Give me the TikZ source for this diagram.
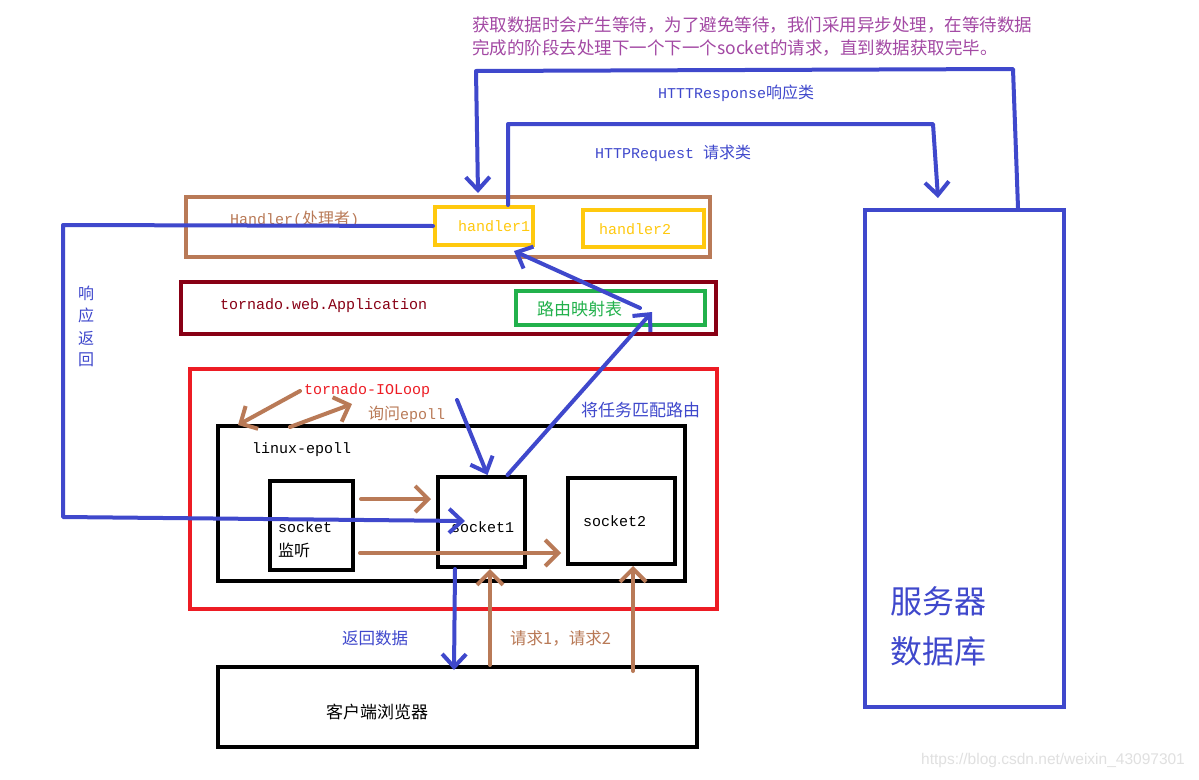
\documentclass[tikz,border=0pt]{standalone}
\usepackage{fontspec}
\setmainfont{Noto Sans CJK SC}
\newfontfamily\cjk{Noto Sans CJK SC}
\newfontfamily\mono{Liberation Mono}
\newfontfamily\wm{Liberation Sans}
\usetikzlibrary{arrows.meta}
\definecolor{cblue}{HTML}{3F48CC}
\definecolor{cbrown}{HTML}{B97A57}
\definecolor{cyellow}{HTML}{FFC90E}
\definecolor{cdred}{HTML}{880015}
\definecolor{cgreen}{HTML}{22B14C}
\definecolor{cred}{HTML}{ED1C24}
\definecolor{cpurple}{HTML}{A349A4}
\tikzset{
  box/.style={draw, line width=4pt, inner sep=0, rectangle},
  lbl/.style={inner sep=0, anchor=west},
  barrow/.style={draw=cblue, line width=4pt, line join=round, line cap=round, -{Straight Barb[length=13pt,width=24pt]}},
  brarrow/.style={draw=cbrown, line width=4pt, line cap=round, -{Straight Barb[length=13pt,width=26pt]}},
}
\newcommand{\ms}{\fontsize{15}{18}\mono}
\newcommand{\cs}{\fontsize{16}{19}\cjk}
\begin{document}
\begin{tikzpicture}[x=1pt,y=-1pt]
\useasboundingbox[fill=white] (0,0) rectangle (1199,779);
% boxes
\node[box, draw=cbrown, minimum width=524pt, minimum height=60pt] (hbox) at (448,227) {};
\node[box, draw=cyellow, minimum width=98pt, minimum height=38pt] (h1) at (484,226) {};
\node[box, draw=cyellow, minimum width=121pt, minimum height=37pt] (h2) at (643.5,228.5) {};
\node[box, draw=cdred, minimum width=535pt, minimum height=52pt] (app) at (448.5,308) {};
\node[box, draw=cgreen, minimum width=189pt, minimum height=34pt] (route) at (610.5,308) {};
\node[box, draw=cred, minimum width=527pt, minimum height=240pt] (loop) at (453.5,489) {};
\node[box, draw=black, minimum width=467pt, minimum height=155pt] (epoll) at (451.5,503.5) {};
\node[box, draw=black, minimum width=83pt, minimum height=89pt] (listen) at (311.5,525.5) {};
\node[box, draw=black, minimum width=87pt, minimum height=90pt] (s1) at (481.5,522) {};
\node[box, draw=black, minimum width=107pt, minimum height=86pt] (s2) at (621.5,521) {};
\node[box, draw=black, minimum width=479pt, minimum height=80pt] (client) at (457.5,707) {};
\node[box, draw=cblue, minimum width=199pt, minimum height=497pt] (server) at (964.5,458.5) {};
% texts
\node[lbl, text=cpurple, font=\fontsize{17.5}{20}\cjk] (t1) at (472,25) {获取数据时会产生等待，为了避免等待，我们采用异步处理，在等待数据};
\node[lbl, text=cpurple, font=\fontsize{17.5}{20}\cjk] (t2) at (472,48) {完成的阶段去处理下一个下一个socket的请求，直到数据获取完毕。};
\node[lbl, text=cblue] (tresp) at (658,93) {{\ms HTTTResponse}{\cs 响应类}};
\node[lbl, text=cblue] (treq) at (595,153) {{\ms HTTPRequest }{\cs 请求类}};
\node[lbl, text=cbrown] (thandler) at (230,219) {{\ms Handler(}{\cs 处理者}{\ms )}};
\node[lbl, text=cyellow, font=\ms] (th1) at (458,226) {handler1};
\node[lbl, text=cyellow, font=\ms] (th2) at (599,229) {handler2};
\node[lbl, text=cdred, font=\ms] (tapp) at (220,306) {tornado.web.Application};
\node[lbl, text=cgreen, font=\fontsize{17}{20}\cjk] (troute) at (537,309) {路由映射表};
\node[lbl, text=cred, font=\ms] (tloop) at (304,391) {tornado-IOLoop};
\node[lbl, text=cbrown] (task) at (368,414) {{\cs 询问}{\ms epoll}};
\node[lbl, text=cblue, font=\fontsize{17}{20}\cjk] (tmatch) at (581,410) {将任务匹配路由};
\node[lbl, text=black, font=\ms] (tepoll) at (252,450) {linux-epoll};
\node[lbl, text=black, font=\ms] (tsock) at (278,527) {socket};
\node[lbl, text=black, font=\cs] (tlisten) at (278,550) {监听};
\node[lbl, text=black, font=\ms] (ts1) at (451,527) {socket1};
\node[lbl, text=black, font=\ms] (ts2) at (583,521) {socket2};
\node[lbl, text=cblue, font=\fontsize{16.5}{19}\cjk] (tret) at (342,638) {返回数据};
\node[lbl, text=cbrown, font=\fontsize{16.5}{19}\cjk] (treqs) at (510,638) {请求1，请求2};
\node[lbl, text=black, font=\fontsize{17}{20}\cjk] (tclient) at (326,712) {客户端浏览器};
\node[inner sep=0, text=cblue, font=\cs] (tv1) at (86,293) {响};
\node[inner sep=0, text=cblue, font=\cs] (tv2) at (86,315) {应};
\node[inner sep=0, text=cblue, font=\cs] (tv3) at (86,338) {返};
\node[inner sep=0, text=cblue, font=\cs] (tv4) at (86,360) {回};
\node[lbl, text=cblue, font=\fontsize{32}{38}\cjk] (tsrv) at (890,601) {服务器};
\node[lbl, text=cblue, font=\fontsize{32}{38}\cjk] (tdb) at (890,651) {数据库};
\node[lbl, text=black!12, font=\fontsize{15.5}{18}\wm] (twm) at (921,760) {https://blog.csdn.net/weixin\_43097301};
% coordinates
\coordinate (r1) at (1013,69);
\coordinate (r2) at (476,71);
\coordinate (rt) at (478,193);
\coordinate (q1) at (508,124);
\coordinate (q2) at (933,124);
\coordinate (qt) at (938,198);
\coordinate (l1) at (63,225);
\coordinate (l2) at (63,517);
\coordinate (lt) at (465,521);
\coordinate (ioa) at (290,427);
\coordinate (iob) at (352,404);
\coordinate (ioc) at (300,391);
\coordinate (iod) at (238,425);
\coordinate (mstart) at (457,400);
\coordinate (rtip) at (652,312);
\coordinate (rfrom) at (640,308);
% blue connectors
\draw[barrow] ([xshift=53.5pt]server.north) -- (r1) -- (r2) -- (rt);
\draw[barrow] ([xshift=24pt]h1.north) -- (q1) -- (q2) -- (qt);
\draw[barrow] (h1.west) -- (l1) -- (l2) -- (lt);
\draw[barrow] ([xshift=26pt]s1.north) -- (rtip);
\draw[barrow] (rfrom) -- ([xshift=30pt,yshift=-4pt]h1.south);
\draw[barrow] (mstart) -- ([xshift=6pt]s1.north);
\draw[barrow] ([xshift=-26.5pt]s1.south) -- ([xshift=-3.5pt,yshift=-5pt]client.north);
% brown connectors
\draw[brarrow] (ioa) -- (iob);
\draw[brarrow] (ioc) -- (iod);
\draw[brarrow] ([xshift=6pt,yshift=26.5pt]listen.east) -- ([xshift=-5pt,yshift=23pt]s1.west);
\draw[brarrow] ([xshift=5pt,yshift=-27.5pt]listen.east) -- ([xshift=-5pt,yshift=-32pt]s2.west);
\draw[brarrow] ([xshift=32.5pt]client.north) -- ([xshift=8.5pt]s1.south);
\draw[brarrow] ([xshift=175.5pt,yshift=-6pt]client.north) -- ([xshift=11.5pt]s2.south);
\end{tikzpicture}
\end{document}
